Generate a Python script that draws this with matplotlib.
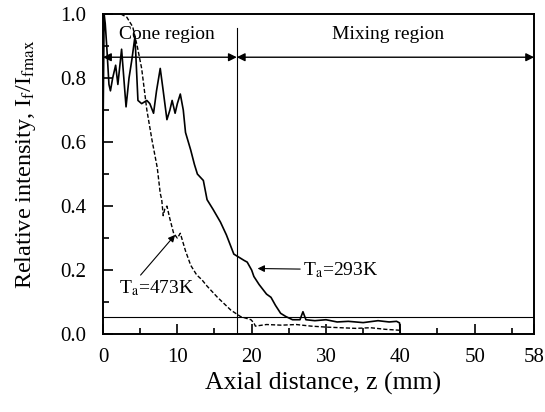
import matplotlib
matplotlib.use('Agg')
import matplotlib.pyplot as plt
import numpy as np

plt.rcParams['font.family'] = ['Liberation Serif', 'DejaVu Serif']
plt.rcParams['mathtext.fontset'] = 'stix'

# T_a = 293K (solid)
z_293 = [0.0, 0.15, 0.3, 0.5, 0.8, 1.0, 1.3, 1.7, 2.0, 2.5, 2.8, 3.1, 3.5, 3.9, 4.3, 4.7, 5.2, 5.9,
         6.3, 6.8, 7.2, 7.7, 8.1, 8.6, 9.0, 9.3, 9.7, 10.0, 10.4, 10.8, 11.1, 11.8, 12.3, 12.7,
         13.5, 14.0, 14.8, 15.8, 16.6, 17.6, 18.3, 19.0, 19.4, 20.0, 20.3, 21.0, 22.0, 22.6,
         23.2, 23.9, 24.6, 25.5, 26.5, 26.9, 27.3, 28.5, 30.0, 31.5, 33.0, 35.0, 37.0, 38.5,
         39.5, 39.9, 40.0]
i_293 = [0.62, 1.0, 0.97, 0.90, 0.78, 0.76, 0.80, 0.84, 0.78, 0.89, 0.80, 0.71, 0.80, 0.86, 0.93,
         0.73, 0.72, 0.73, 0.72, 0.69, 0.76, 0.83, 0.76, 0.67, 0.70, 0.73, 0.69, 0.72, 0.75, 0.70,
         0.63, 0.575, 0.53, 0.50, 0.48, 0.42, 0.39, 0.35, 0.31, 0.25, 0.24, 0.23, 0.225, 0.20,
         0.18, 0.155, 0.125, 0.115, 0.09, 0.065, 0.055, 0.045, 0.045, 0.07, 0.045, 0.042, 0.045,
         0.038, 0.040, 0.036, 0.042, 0.038, 0.04, 0.035, 0.0]

# T_a = 473K (dashed)
z_473 = [2.4, 3.2, 4.0, 4.6, 5.2, 5.9, 6.6, 7.3, 7.7, 7.9, 8.1, 8.3, 8.6, 9.0, 9.5, 10.0, 10.4,
         11.1, 11.8, 12.6, 13.3, 14.0, 15.4, 16.3, 17.2, 18.5, 19.9, 20.3, 20.5, 22.0, 24.0,
         26.0, 28.0, 30.0, 32.0, 34.0, 36.0, 38.0, 40.0]
i_473 = [1.0, 0.99, 0.96, 0.90, 0.83, 0.70, 0.605, 0.52, 0.44, 0.42, 0.37, 0.39, 0.40, 0.36,
         0.315, 0.30, 0.315, 0.26, 0.215, 0.185, 0.17, 0.15, 0.115, 0.095, 0.075, 0.055, 0.045,
         0.035, 0.025, 0.03, 0.028, 0.03, 0.025, 0.022, 0.02, 0.018, 0.02, 0.015, 0.012]

z_cone_end = 18
z_max = 58
threshold = 0.055
arrow_level = 0.865

fig = plt.figure(figsize=(5.45, 4.12), dpi=100)
ax = fig.add_axes([0.189, 0.189, 0.791, 0.777])

ax.plot(z_293, i_293, color='black', lw=1.2)
ax.plot(z_473, i_473, color='black', lw=1.0, ls=(0, (3, 1.5)))

ax.axhline(threshold, color='black', lw=0.8)
ax.plot([z_cone_end, z_cone_end], [0, 0.955], color='black', lw=0.8)

# region arrows
ax.annotate('', xy=(0, arrow_level), xytext=(z_cone_end, arrow_level),
            arrowprops=dict(arrowstyle='<|-|>', color='black', lw=1.0, mutation_scale=12,
                            shrinkA=0, shrinkB=0))
ax.annotate('', xy=(z_max, arrow_level), xytext=(z_cone_end, arrow_level),
            arrowprops=dict(arrowstyle='<|-|>', color='black', lw=1.0, mutation_scale=12,
                            shrinkA=0, shrinkB=0))
ax.text(8.6, 0.935, 'Cone region', ha='center', va='center', fontsize=14)
ax.text(38.4, 0.935, 'Mixing region', ha='center', va='center', fontsize=14)

ax.annotate(r'T$_\mathrm{a}$=473K', xy=(9.7, 0.31), xytext=(2.2, 0.145),
            ha='left', va='center', fontsize=14,
            arrowprops=dict(arrowstyle='-|>', color='black', lw=0.8, mutation_scale=10,
                            shrinkA=0, shrinkB=0, relpos=(0.25, 1.0)))
ax.annotate(r'T$_\mathrm{a}$=293K', xy=(20.8, 0.205), xytext=(26.9, 0.2),
            ha='left', va='center', fontsize=14,
            arrowprops=dict(arrowstyle='-|>', color='black', lw=0.8, mutation_scale=10,
                            shrinkA=0, shrinkB=0, relpos=(0.0, 0.55)))

ax.set_xlim(0, z_max)
ax.set_ylim(0, 1.0)
ax.set_xticks([0, 10, 20, 30, 40, 50, 58])
ax.set_xticks([5, 15, 25, 35, 45, 55], minor=True)
ax.set_yticks([0.0, 0.2, 0.4, 0.6, 0.8, 1.0])
ax.set_yticks([0.1, 0.3, 0.5, 0.7, 0.9], minor=True)
ax.set_yticklabels(['0.0', '0.2', '0.4', '0.6', '0.8', '1.0'])
ax.tick_params(which='both', direction='in', labelsize=15, width=1.2)
ax.tick_params(which='major', length=7)
ax.tick_params(which='minor', length=4)
ax.tick_params(axis='x', pad=10)
ax.tick_params(axis='y', pad=12)
for s in ax.spines.values():
    s.set_linewidth(1.4)

ax.set_xlabel('Axial distance, z (mm)', fontsize=18.5)
ax.xaxis.set_label_coords(0.51, -0.118)
ax.set_ylabel(r'Relative intensity, I$_\mathrm{f}$/I$_\mathrm{fmax}$', fontsize=17.5)
ax.yaxis.set_label_coords(-0.15, 0.53)

fig.savefig('out.png', dpi=100)
